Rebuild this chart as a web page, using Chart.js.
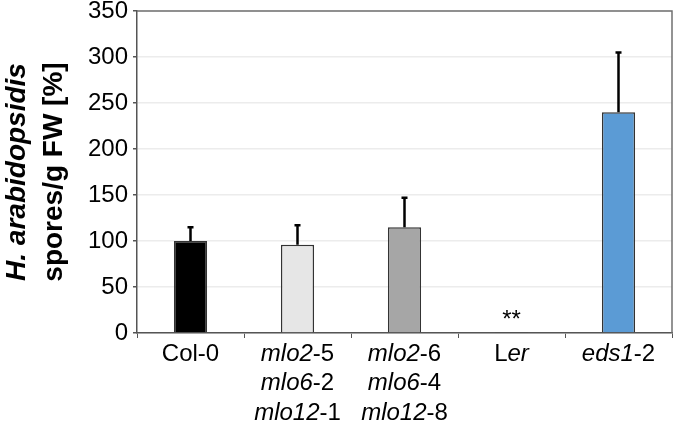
<!DOCTYPE html>
<html>
<head>
<meta charset="utf-8">
<script src="https://cdn.jsdelivr.net/npm/chart.js@4"></script>
<style>
  html, body { margin: 0; padding: 0; background: #fff; }
  #wrap { width: 675px; height: 428px; }
</style>
</head>
<body>
<div id="wrap"><canvas id="sporeChart" width="675" height="428"></canvas></div>
<script>
// Data; _text_ marks italic parts of a label
const categories = [
  ["Col-0"],
  ["_mlo2_-5", "_mlo6_-2", "_mlo12_-1"],
  ["_mlo2_-6", "_mlo6_-4", "_mlo12_-8"],
  ["L_er_"],
  ["_eds1_-2"],
];
const means = [100, 96, 115, 1, 240];
const errors = [15, 21, 32, 0, 65];
const marks = ["", "", "", "**", ""];
const barColors = ["#000000", "#e6e6e6", "#a6a6a6", "#808080", "#5b9bd5"];
const yTicks = [0, 50, 100, 150, 200, 250, 300, 350];
const titleLines = ["H. arabidopsidis", "spores/g FW [%]"];

const FONT = "'Liberation Sans', Arial, sans-serif";

// split "_mlo2_-5" into [["mlo2", true], ["-5", false]]
function parseLabel(str) {
  return str.split("_").map((t, i) => [t, i % 2 === 1]).filter((s) => s[0] !== "");
}

// error bars (upper only) + significance stars
const errorBarPlugin = {
  id: "errorBars",
  afterDatasetsDraw(chart) {
    const ctx = chart.ctx;
    const y = chart.scales.y;
    const meta = chart.getDatasetMeta(0);
    ctx.save();
    meta.data.forEach((bar, i) => {
      const base = y.getPixelForValue(means[i]);
      const top = y.getPixelForValue(means[i] + errors[i]);
      if (errors[i] > 0) {
        ctx.strokeStyle = "#000";
        ctx.lineWidth = 2.5;
        ctx.beginPath();
        ctx.moveTo(bar.x, base);
        ctx.lineTo(bar.x, top);
        ctx.moveTo(bar.x - 3, top);
        ctx.lineTo(bar.x + 3, top);
        ctx.stroke();
      }
      if (marks[i]) {
        ctx.fillStyle = "#000";
        ctx.font = "24px " + FONT;
        ctx.textAlign = "center";
        ctx.textBaseline = "alphabetic";
        ctx.fillText(marks[i], bar.x, top - 5);
      }
    });
    ctx.restore();
  },
};

// frame, x labels with mixed italics, y title
const decorPlugin = {
  id: "decor",
  afterDraw(chart) {
    const ctx = chart.ctx;
    const area = chart.chartArea;
    const x = chart.scales.x;
    ctx.save();

    // top and right border
    ctx.strokeStyle = "#707070";
    ctx.lineWidth = 1.5;
    ctx.beginPath();
    ctx.moveTo(area.left, area.top);
    ctx.lineTo(area.right, area.top);
    ctx.lineTo(area.right, area.bottom);
    ctx.stroke();

    // category labels
    ctx.fillStyle = "#000";
    ctx.textBaseline = "middle";
    ctx.textAlign = "left";
    categories.forEach((lines, i) => {
      const cx = x.getPixelForValue(i);
      lines.forEach((line, j) => {
        const segs = parseLabel(line);
        let w = 0;
        segs.forEach((s) => {
          ctx.font = (s[1] ? "italic " : "") + "24px " + FONT;
          w += ctx.measureText(s[0]).width;
        });
        let px = cx - w / 2;
        const py = area.bottom + 21 + j * 29.5;
        segs.forEach((s) => {
          ctx.font = (s[1] ? "italic " : "") + "24px " + FONT;
          ctx.fillText(s[0], px, py);
          px += ctx.measureText(s[0]).width;
        });
      });
    });

    // y axis title, rotated
    const cy = (area.top + area.bottom) / 2;
    ctx.translate(0, cy);
    ctx.rotate(-Math.PI / 2);
    ctx.textAlign = "center";
    ctx.textBaseline = "alphabetic";
    ctx.font = "italic bold 28px " + FONT;
    ctx.fillText(titleLines[0], 0, 25);
    ctx.font = "bold 28px " + FONT;
    ctx.fillText(titleLines[1], 0, 62);
    ctx.restore();
  },
};

const ctx = document.getElementById("sporeChart").getContext("2d");
new Chart(ctx, {
  type: "bar",
  data: {
    labels: categories.map((c) => c.join(" ")),
    datasets: [
      {
        data: means,
        backgroundColor: barColors,
        borderColor: "#333333",
        borderWidth: 1.5,
        barPercentage: 0.31,
        categoryPercentage: 1,
      },
    ],
  },
  options: {
    responsive: false,
    animation: false,
    layout: { padding: { top: 11, right: 3, left: 0, bottom: 0 } },
    plugins: {
      legend: { display: false },
      tooltip: { enabled: false },
    },
    scales: {
      x: {
        grid: {
          display: true,
          drawOnChartArea: false,
          drawTicks: true,
          tickLength: 5,
          tickColor: "#555555",
          offset: true,
        },
        border: { color: "#555555", width: 1.5 },
        ticks: { display: false },
        afterFit(scale) {
          scale.height = 95;
        },
      },
      y: {
        min: 0,
        max: 350,
        afterBuildTicks(scale) {
          scale.ticks = yTicks.map((v) => ({ value: v }));
        },
        grid: {
          color: "#ececec",
          lineWidth: 1.5,
          tickLength: 4,
          tickColor: "#555555",
        },
        border: { color: "#555555", width: 1.5 },
        ticks: {
          color: "#000",
          padding: 5,
          font: { size: 24, family: FONT },
        },
        afterFit(scale) {
          scale.width = 137;
          scale.paddingTop = 0;
          scale.paddingBottom = 0;
        },
      },
    },
  },
  plugins: [errorBarPlugin, decorPlugin],
});
</script>
</body>
</html>
